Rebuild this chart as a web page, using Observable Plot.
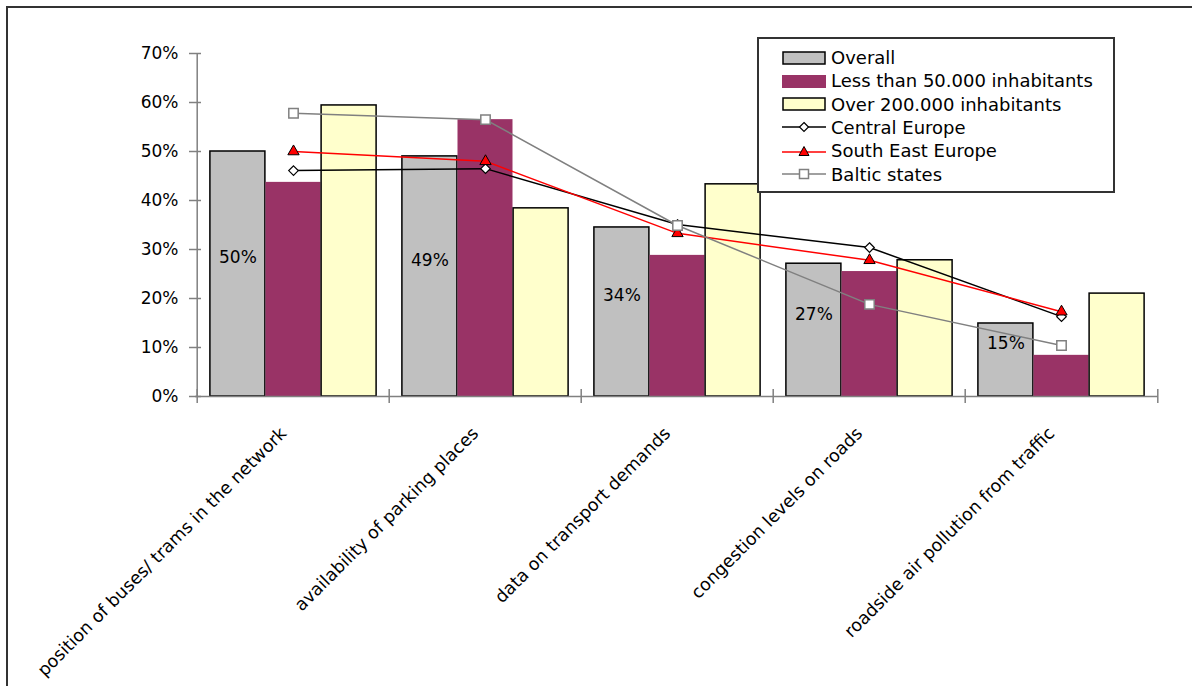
<!DOCTYPE html>
<html>
<head>
<meta charset="utf-8">
<script src="https://cdn.jsdelivr.net/npm/d3@7"></script>
<script src="https://cdn.jsdelivr.net/npm/@observablehq/plot@0.6"></script>
<style>
  html, body { margin: 0; padding: 0; background: #fff; }
  #wrap { position: relative; width: 1192px; height: 686px; overflow: hidden; font-family: "DejaVu Sans", sans-serif; }
  #frame { position: absolute; left: 6px; top: 6px; width: 1300px; height: 800px; border-left: 2px solid #333; border-top: 2px solid #333; }
  #chart { position: absolute; left: 0; top: 0; }
  #legend { position: absolute; left: 757px; top: 37px; width: 354px; height: 152px; border: 2px solid #333; background: #fff; }
  .row { position: absolute; left: 23px; height: 23px; line-height: 23px; font-size: 18px; color: #000; white-space: nowrap; display: flex; align-items: center; }
  .row svg { margin-right: 5px; }
</style>
</head>
<body>
<div id="wrap">
  <div id="frame"></div>
  <div id="chart"></div>
  <div id="legend"></div>
</div>
<script>
// ---- data ----
const categories = [
  "position of buses/ trams in the network",
  "availability of parking places",
  "data on transport demands",
  "congestion levels on roads",
  "roadside air pollution from traffic"
];
const overall        = [0.500, 0.490, 0.345, 0.271, 0.149];
const lessThan50k    = [0.437, 0.565, 0.288, 0.255, 0.084];
const over200k       = [0.594, 0.384, 0.433, 0.278, 0.210];
const centralEurope  = [0.461, 0.465, 0.351, 0.304, 0.163];
const southEastEurope= [0.500, 0.480, 0.333, 0.278, 0.173];
const balticStates   = [0.578, 0.565, 0.349, 0.188, 0.104];
const overallLabels  = ["50%", "49%", "34%", "27%", "15%"];
const yTicks = [0, 0.1, 0.2, 0.3, 0.4, 0.5, 0.6, 0.7];
const seriesNames = ["Overall", "Less than 50.000 inhabitants", "Over 200.000 inhabitants",
                     "Central Europe", "South East Europe", "Baltic states"];

// ---- layout ----
const W = 1192, H = 686, mL = 195, mR = 34, mT = 53, mB = 290;
const step = (W - mL - mR) / categories.length;
const barW = step * 0.2887;
const inset = (step - barW) / 2;
const axisColor = "#808080";

const rows = arr => categories.map((c, i) => ({category: c, value: arr[i], i}));

const barStyle = {x: "category", y: "value", insetLeft: inset, insetRight: inset};

const chart = Plot.plot({
  width: W, height: H,
  marginLeft: mL, marginRight: mR, marginTop: mT, marginBottom: mB,
  style: {fontFamily: "DejaVu Sans", fontSize: "16px", background: "transparent", overflow: "visible", color: "#000"},
  x: {domain: categories, padding: 0, axis: null, label: null},
  y: {domain: [0, 0.7], axis: null, label: null},
  marks: [
    Plot.barY(rows(overall), {...barStyle, fill: "#c0c0c0", stroke: "#000", strokeWidth: 1.5, dx: -barW}),
    Plot.barY(rows(lessThan50k), {...barStyle, fill: "#993366"}),
    Plot.barY(rows(over200k), {...barStyle, fill: "#ffffcc", stroke: "#000", strokeWidth: 1.5, dx: barW}),
    Plot.text(rows(overall), {x: "category", y: d => d.value / 2, text: d => overallLabels[d.i],
      dx: -barW, dy: -16, fontSize: 17, fill: "#000"}),
    // axes
    Plot.ruleY([0], {stroke: axisColor, strokeWidth: 1.5}),
    Plot.ruleX(categories.slice(0, 1), {x: d => d, dx: -step / 2, y1: 0, y2: 0.7, stroke: axisColor, strokeWidth: 1.5}),
    Plot.ruleX(categories, {x: d => d, dx: -step / 2, y1: 0, y2: 0, insetTop: -7, insetBottom: -7, stroke: axisColor, strokeWidth: 1.5}),
    Plot.ruleX(categories.slice(-1), {x: d => d, dx: step / 2, y1: 0, y2: 0, insetTop: -7, insetBottom: -7, stroke: axisColor, strokeWidth: 1.5}),
    Plot.axisY(yTicks, {tickFormat: d3.format(".0%"), tickSize: 12, dx: 6, tickPadding: 11, stroke: axisColor, strokeWidth: 1.5, fill: "#000", fontSize: 17, label: null}),
    Plot.axisX({tickRotate: -45, tickSize: 0, tickPadding: 34, dx: -10, fontSize: 17.5, fill: "#000", label: null}),
    // lines
    Plot.line(rows(centralEurope), {x: "category", y: "value", stroke: "#000", strokeWidth: 1.5}),
    Plot.line(rows(southEastEurope), {x: "category", y: "value", stroke: "#ff0000", strokeWidth: 1.5}),
    Plot.line(rows(balticStates), {x: "category", y: "value", stroke: "#808080", strokeWidth: 1.5}),
    Plot.dot(rows(centralEurope), {x: "category", y: "value", symbol: "diamond2", r: 4.3, fill: "#fff", stroke: "#000", strokeWidth: 1.2}),
    Plot.dot(rows(southEastEurope), {x: "category", y: "value", symbol: "triangle", r: 4.2, fill: "#ff0000", stroke: "#000", strokeWidth: 1}),
    Plot.dot(rows(balticStates), {x: "category", y: "value", symbol: "square", r: 5.3, fill: "#fff", stroke: "#808080", strokeWidth: 1.5})
  ]
});
document.getElementById("chart").appendChild(chart);

// ---- legend ----
const swatches = [
  `<svg width="44" height="14"><rect x="1" y="1" width="42" height="12" fill="#c0c0c0" stroke="#000" stroke-width="1.5"/></svg>`,
  `<svg width="44" height="14"><rect x="0" y="1" width="44" height="13" fill="#993366"/></svg>`,
  `<svg width="44" height="14"><rect x="1" y="1" width="42" height="12" fill="#ffffcc" stroke="#000" stroke-width="1.5"/></svg>`,
  `<svg width="44" height="14"><line x1="0" y1="7" x2="44" y2="7" stroke="#000" stroke-width="1.5"/><path d="M22,2.5L26.5,7L22,11.5L17.5,7Z" fill="#fff" stroke="#000" stroke-width="1.2"/></svg>`,
  `<svg width="44" height="14"><line x1="0" y1="8" x2="44" y2="8" stroke="#ff0000" stroke-width="1.5"/><path d="M22,2.5L27,11.5L17,11.5Z" fill="#ff0000" stroke="#000" stroke-width="1"/></svg>`,
  `<svg width="44" height="14"><line x1="0" y1="7" x2="44" y2="7" stroke="#808080" stroke-width="1.5"/><rect x="17.5" y="2.5" width="9" height="9" fill="#fff" stroke="#808080" stroke-width="1.5"/></svg>`
];
const legend = document.getElementById("legend");
seriesNames.forEach((name, i) => {
  const row = document.createElement("div");
  row.className = "row";
  row.style.top = (7 + i * 23.3) + "px";
  row.innerHTML = swatches[i] + `<span>${name}</span>`;
  legend.appendChild(row);
});
</script>
</body>
</html>
